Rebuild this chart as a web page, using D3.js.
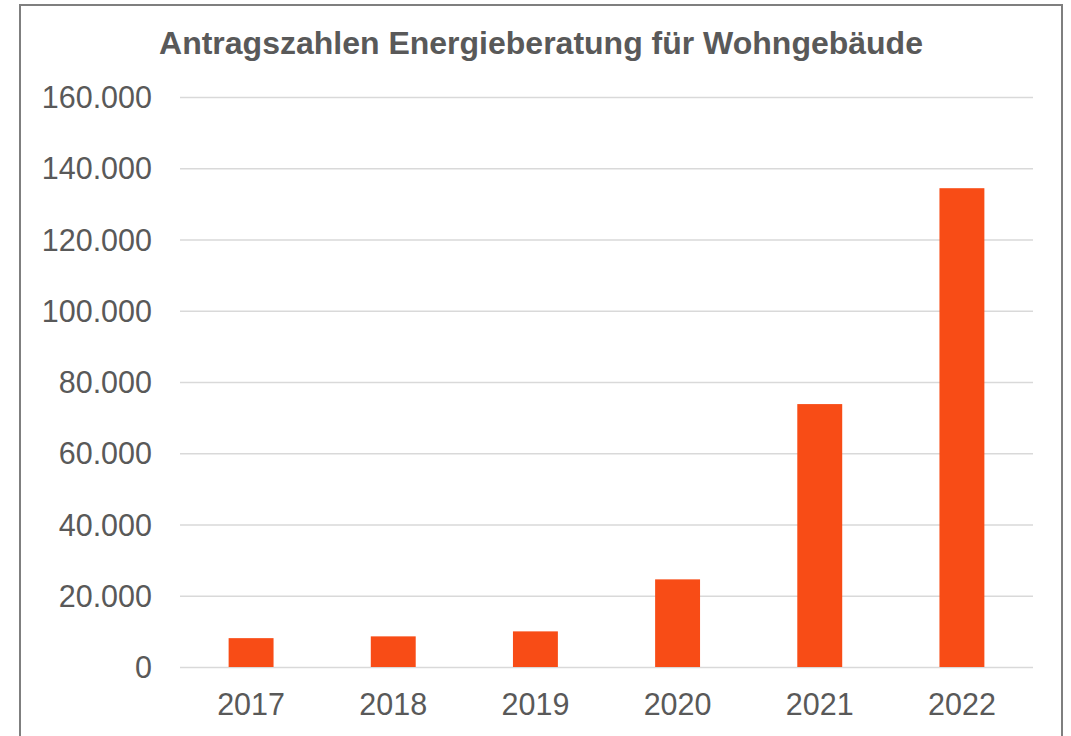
<!DOCTYPE html>
<html>
<head>
<meta charset="utf-8">
<script src="https://cdn.jsdelivr.net/npm/d3@7"></script>
<style>
  body { margin: 0; background: #fff; }
  svg { display: block; font-family: "Liberation Sans", Arial, sans-serif; }
</style>
</head>
<body>
<svg width="1071" height="736"></svg>
<script>
const years = ['2017', '2018', '2019', '2020', '2021', '2022'];
const antraege = [8100, 8600, 10000, 24600, 73800, 134400];
const yTicks = [0, 20000, 40000, 60000, 80000, 100000, 120000, 140000, 160000];
const chartTitle = 'Antragszahlen Energieberatung für Wohngebäude';

const data = years.map((y, i) => ({ year: y, value: antraege[i] }));

const svg = d3.select('svg');
const width = +svg.attr('width');
const height = +svg.attr('height');
const textColor = '#595959';

const margin = { top: 97, right: 38, bottom: 69, left: 180 };
const innerWidth = width - margin.left - margin.right;
const innerHeight = height - margin.top - margin.bottom;

// chart frame (bottom edge falls outside the picture)
svg.append('rect')
    .attr('x', 20)
    .attr('y', 5)
    .attr('width', 1042)
    .attr('height', 760)
    .attr('fill', 'none')
    .attr('stroke', '#7f7f7f')
    .attr('stroke-width', 2);

svg.append('text')
    .attr('x', 541)
    .attr('y', 54)
    .attr('text-anchor', 'middle')
    .attr('fill', textColor)
    .style('font-size', '32px')
    .style('font-weight', 'bold')
    .text(chartTitle);

const g = svg.append('g')
    .attr('transform', `translate(${margin.left}, ${margin.top})`);

const xScale = d3.scaleBand()
    .domain(years)
    .range([0, innerWidth])
    .paddingInner(0.684)
    .paddingOuter(0.342);

const yScale = d3.scaleLinear()
    .domain([0, 160000])
    .range([innerHeight, 0]);

const de = d3.formatLocale({ decimal: ',', thousands: '.', grouping: [3], currency: ['', ' €'] });

const yAxis = d3.axisLeft(yScale)
    .tickValues(yTicks)
    .tickSize(-innerWidth)
    .tickPadding(28)
    .tickFormat(de.format(','));
const yAxisG = g.append('g').call(yAxis);
yAxisG.select('.domain').remove();
yAxisG.selectAll('line')
    .attr('stroke', '#d9d9d9')
    .attr('stroke-width', 1.5);
yAxisG.selectAll('text')
    .attr('fill', textColor)
    .attr('dy', '0.35em')
    .style('font-size', '30.5px');

const xAxis = d3.axisBottom(xScale)
    .tickSize(0)
    .tickPadding(26);
const xAxisG = g.append('g')
    .attr('transform', `translate(0, ${innerHeight})`)
    .call(xAxis);
xAxisG.select('.domain').remove();
xAxisG.selectAll('text')
    .attr('fill', textColor)
    .style('font-size', '30.5px');

g.selectAll('.bar').data(data)
  .enter().append('rect')
    .attr('class', 'bar')
    .attr('x', d => xScale(d.year))
    .attr('y', d => yScale(d.value))
    .attr('width', xScale.bandwidth())
    .attr('height', d => innerHeight - yScale(d.value))
    .attr('fill', '#f84c16');
</script>
</body>
</html>
